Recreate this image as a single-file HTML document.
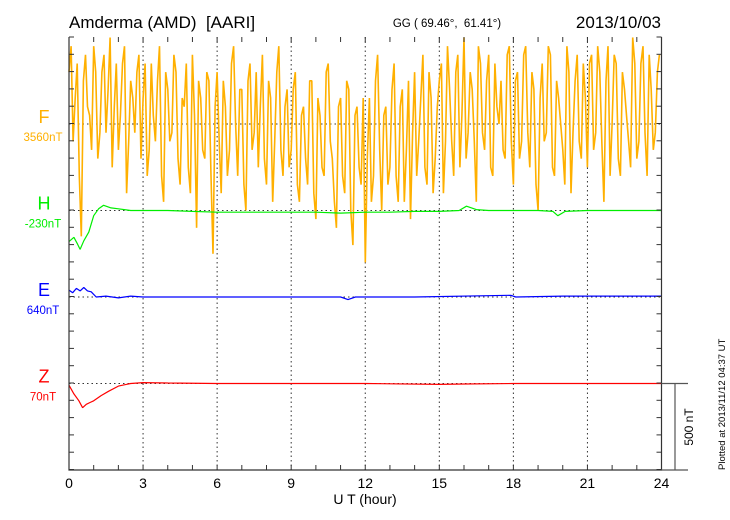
<!DOCTYPE html>
<html><head><meta charset="utf-8"><style>
body{margin:0;background:#fff;}
svg{display:block;font-family:"Liberation Sans",sans-serif;}
</style></head><body>
<svg id="c" width="730" height="520">
<g id="grid"></g><g id="series"></g><g id="axes"></g>
<text x="69" y="28" font-size="17">Amderma (AMD)&#160; [AARI]</text>
<text x="447" y="27" font-size="11.5" text-anchor="middle">GG ( 69.46°,&#160; 61.41°)</text>
<text x="661" y="28" font-size="17" text-anchor="end">2013/10/03</text>
<text x="365" y="504" font-size="14" text-anchor="middle">U T (hour)</text>
<text transform="translate(725,470) rotate(-90)" font-size="9.5">Plotted at 2013/11/12 04:37  UT</text>
<text transform="translate(693,427) rotate(-90)" font-size="12" text-anchor="middle">500 nT</text>
</svg>
<script>
const hourTicks=[0,3,6,9,12,15,18,21,24];
const comps=["F","H","E","Z"];
const baseLabels=["3560nT","-230nT","640nT","70nT"];
const colors=["#ffb000","#00ee00","#0000ff","#ff0000"];
const fValues=[300,-100,350,-650,400,50,450,-200,300,-50,500,100,-150,350,-400,250,-50,400,
150,-300,350,-100,450,-450,200,-50,300,-350,100,-250,400,-600,150,-200,250,-750,
300,-400,100,-150,450,-300,200,-500,350,-50,-250,400,-350,150,-100,450,-300,200,
-150,300,-450,100,-350,250,-550,50,-300,350,-200,-600,150,-400,200,-700,100,-350,
-800,150,-300,400,-500,100,-250,350,-450,200,-150,-550,300,-100,400,-350,150,-200,
250,-400,450,-100,300,-250,500,-50,200,-450,350,-150,400,-300,100,250,-200,450,
-350,300,-100,450,-250,200,-500,350,-50,400,-300,150,-150,450,-400,250,-100,350,
-250,400,-50,300,-450,450,0,350,-300,200,-100,500,-200,350,-50,400,-150,300];
const fValues2=[450,150,-300,250,100,-150,300,-50,400,200,-250,350,50,450,-100,150,300,-200,
350,-150,50,250,-300,300,-100,400,-200,150,350,-400,50,250,-150,300,-300,100,
-100,250,-300,350,0,200,-350,250,-150,300,100,-200,250,-450,300,-150,100,-250,
200,-350,50,-200,250,-400,150,-250,300,-100,-450,100,-300,250,-500,50,-250,150,
-200,-450,250,-150,50,-350,200,-300,100,-450,250,-50,-300,150,-250,300,-400,100,
350,-100,200,-300,400,50,-200,300,-100,450,-50,250,-250,350,0,-150,400,-100,
250,-200,400,-50,300,-350,150,-100,450,-250,250,0,-350,300,-50,400,-200,150,
350,-150,450,-100,250,-300,400,-200,300,50,-250,350,-100,450,-300,200,-50,400];
const hTimes=[0,0.2,0.35,0.45,0.6,0.8,1.0,1.2,1.4,1.7,2,2.5,3,4,5,6,8,10,11,12,13,14,15,15.8,16.1,16.5,17,18,19,19.6,19.8,20.1,21,22,23,24];
const hValues=[-180,-155,-195,-225,-175,-125,-30,10,30,15,10,0,0,0,-5,-10,-10,-10,-15,-10,-10,-5,-5,0,25,5,0,0,0,-5,-30,-5,0,0,0,0];
const eTimes=[0,0.15,0.3,0.45,0.6,0.75,0.9,1.1,1.5,2,2.5,3,5,8,11,11.3,11.6,14,17.9,18.1,20,24];
const eValues=[40,25,50,35,55,35,30,0,5,-5,5,0,0,0,0,-15,0,0,10,0,5,5];
const zTimes=[0,0.2,0.4,0.55,0.7,0.85,1,1.3,1.6,2,2.5,3,4,6,9,12,15,16,18,20,24];
const zValues=[-10,-60,-100,-140,-120,-110,-100,-70,-45,-15,0,5,3,0,0,0,-5,-3,0,0,0];

const NS="http://www.w3.org/2000/svg";
const L=69,R=661.5,T=37,B=470;
const base=[124,210.5,297,383.5];
const pxPerNT=86.5/500;
const xs=h=>L+(R-L)*h/24;
const ys=(i,v)=>base[i]-v*pxPerNT;
function mk(tag,attrs,parent){const e=document.createElementNS(NS,tag);for(const k in attrs)e.setAttribute(k,attrs[k]);parent.appendChild(e);return e;}
const grid=document.getElementById('grid'),ser=document.getElementById('series'),ax=document.getElementById('axes');
hourTicks.forEach(h=>{if(h>0&&h<24){const l=mk('line',{x1:xs(h),x2:xs(h),y1:T,y2:B,stroke:'#333','stroke-width':1,'stroke-dasharray':'1.5,3'},grid);

}});
comps.forEach((c,i)=>{const l=mk('line',{x1:L,x2:R,y1:base[i],y2:base[i],stroke:'#333','stroke-width':1,'stroke-dasharray':'1.5,3'},grid);


const t=mk('text',{x:44,y:base[i]-1,'font-size':18,'text-anchor':'middle',fill:colors[i]},ax);t.textContent=c;


const b=mk('text',{x:43,y:base[i]+17,'font-size':11.5,'text-anchor':'middle',fill:colors[i]},ax);b.textContent=baseLabels[i];

});
function line(i,times,vals,name,w){const p=mk('polyline',{points:times.map((t,k)=>xs(t).toFixed(1)+','+ys(i,vals[k]).toFixed(1)).join(' '),fill:'none',stroke:colors[i],'stroke-width':w,'stroke-linejoin':'bevel'},ser);

}
const fTimes=[],fAll=[];
fValues.forEach((v,k)=>{fTimes.push(k*24/fValues.length);fAll.push(v);fTimes.push((k+0.5)*24/fValues.length);fAll.push(fValues2[k]);});
line(0,fTimes,fAll,'f-series',1.6);
line(1,hTimes,hValues,'h-series',1.2);
line(2,eTimes,eValues,'e-series',1.2);
line(3,zTimes,zValues,'z-series',1.2);
const fr=mk('path',{d:`M${L},${T}V${B}H${R}V${T}`,fill:'none',stroke:'#333','stroke-width':1.2},ax);


for(let k=0;k<=25;k++){const y=T+k*17.3;if(y>B)break;
mk('line',{x1:L,x2:L+5,y1:y,y2:y,stroke:'#333'},ax);mk('line',{x1:R-5,x2:R,y1:y,y2:y,stroke:'#333'},ax);}
for(let h=0;h<=24;h++){const x=xs(h);mk('line',{x1:x,x2:x,y1:B,y2:B-5,stroke:'#333'},ax);mk('line',{x1:x,x2:x,y1:T,y2:T+5,stroke:'#333'},ax);}
hourTicks.forEach(h=>{const t=mk('text',{x:xs(h),y:488,'font-size':14,'text-anchor':'middle'},ax);t.textContent=h;

});
const sb=mk('path',{d:`M${R},${base[3]}H688M675,${base[3]}V${B}M${R},${B}H688`,fill:'none',stroke:'#555','stroke-width':1.2},ax);


</script>
</body></html>
